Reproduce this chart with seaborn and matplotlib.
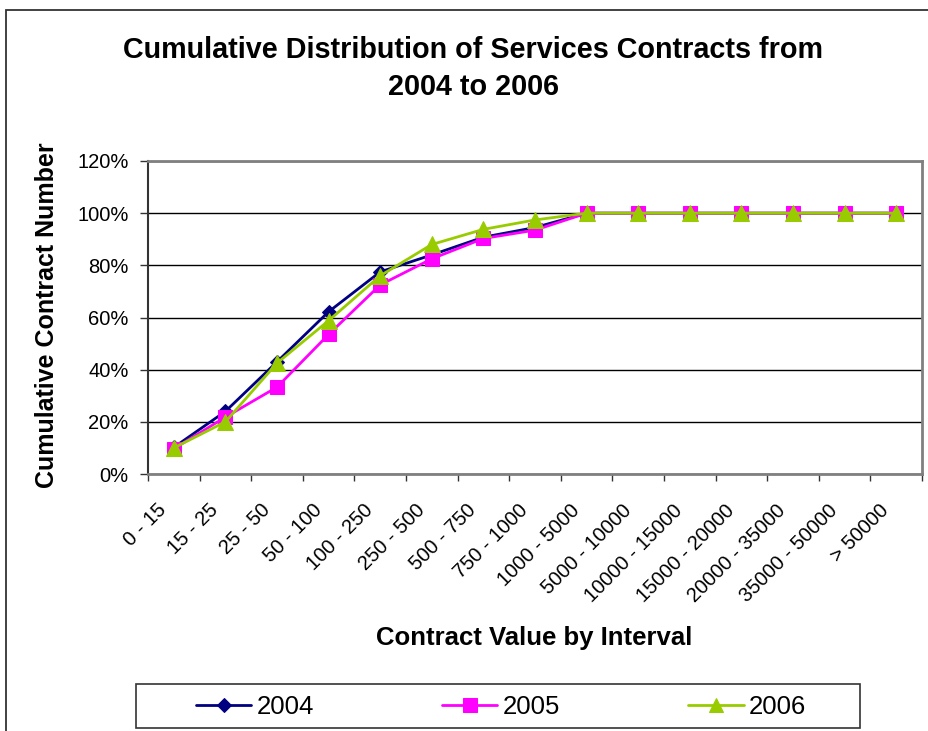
import pandas as pd
import matplotlib
matplotlib.use("Agg")
import matplotlib.pyplot as plt
from matplotlib.patches import Rectangle
from matplotlib.transforms import ScaledTranslation
from matplotlib.ticker import FixedLocator, PercentFormatter
import seaborn as sns

# chart data
intervals = ["0 - 15", "15 - 25", "25 - 50", "50 - 100", "100 - 250", "250 - 500",
             "500 - 750", "750 - 1000", "1000 - 5000", "5000 - 10000", "10000 - 15000",
             "15000 - 20000", "20000 - 35000", "35000 - 50000", "> 50000"]
cum_2004 = [10.2, 24.0, 43.0, 62.2, 77.5, 84.0, 90.8, 94.5, 100, 100, 100, 100, 100, 100, 100]
cum_2005 = [9.7, 21.8, 33.3, 53.5, 72.5, 82.5, 90.3, 93.5, 100, 100, 100, 100, 100, 100, 100]
cum_2006 = [10.0, 20.0, 42.5, 58.8, 76.0, 88.0, 93.8, 97.4, 100, 100, 100, 100, 100, 100, 100]
years = ["2004", "2005", "2006"]

df = pd.DataFrame({"pos": range(len(intervals)), "2004": cum_2004,
                   "2005": cum_2005, "2006": cum_2006})
df = df.melt(id_vars="pos", var_name="year", value_name="pct")

sns.set_style("white")
plt.rcParams["font.family"] = ["Liberation Sans", "DejaVu Sans"]
plt.rcParams["text.color"] = "black"
plt.rcParams["xtick.color"] = "black"
plt.rcParams["ytick.color"] = "black"
plt.rcParams["axes.labelcolor"] = "black"

fig = plt.figure(figsize=(9.29, 7.31), dpi=100)
ax = fig.add_axes([148 / 929, 1 - 474 / 731, (922 - 148) / 929, (474 - 161) / 731])

palette = {"2004": "#000080", "2005": "#FF00FF", "2006": "#99CC00"}
markers = {"2004": "D", "2005": "s", "2006": "^"}
sizes = {"2004": 7, "2005": 10.5, "2006": 11}
for y in years:
    sns.lineplot(data=df[df.year == y], x="pos", y="pct", color=palette[y],
                 marker=markers[y], markersize=sizes[y], markeredgecolor=palette[y],
                 linewidth=2, label=y, ax=ax, legend=False, zorder=3)

ax.set_xlabel("")
ax.set_ylabel("")
ax.set_xlim(-0.5, len(intervals) - 0.5)
ax.set_ylim(0, 120)
ax.yaxis.set_major_locator(FixedLocator(range(0, 121, 20)))
ax.yaxis.set_major_formatter(PercentFormatter(decimals=0))
ax.grid(axis="y", color="black", linewidth=1)
ax.grid(axis="x", visible=False)

# ticks at category boundaries, labels at category centres
ax.set_xticks([i - 0.5 for i in range(len(intervals) + 1)])
ax.set_xticklabels([])
ax.set_xticks(range(len(intervals)), minor=True)
ax.set_xticklabels(intervals, minor=True, rotation=45, ha="right", va="center",
                   rotation_mode="anchor", fontsize=14.5)
ax.tick_params(axis="x", which="minor", length=0, pad=24)
ax.tick_params(axis="x", which="major", direction="out", length=5, width=1, color="#333333")
ax.tick_params(axis="y", direction="out", length=6, width=1, labelsize=14.5,
               color="#333333", pad=8)
ax.xaxis.set_ticks_position("bottom")
ax.yaxis.set_ticks_position("left")
shift = ScaledTranslation(-0.1, 0, fig.dpi_scale_trans)
for lab in ax.get_xticklabels(minor=True):
    lab.set_transform(lab.get_transform() + shift)

for side in ["top", "bottom", "right"]:
    ax.spines[side].set_color("#808080")
    ax.spines[side].set_linewidth(2)
ax.spines["left"].set_color("#333333")
ax.spines["left"].set_linewidth(1.5)

fig.text(534 / 929, 1 - 638 / 731, "Contract Value by Interval", ha="center", va="center",
         fontsize=18.5, fontweight="bold")
fig.text(47 / 929, 1 - 315 / 731, "Cumulative Contract Number", ha="center", va="center",
         rotation=90, fontsize=18, fontweight="bold")
fig.text(473 / 929, 1 - 58 / 731, "Cumulative Distribution of Services Contracts from",
         ha="center", va="baseline", fontsize=20.7, fontweight="bold")
fig.text(473 / 929, 1 - 95 / 731, "2004 to 2006",
         ha="center", va="baseline", fontsize=20.7, fontweight="bold")

handles, labels = ax.get_legend_handles_labels()
leg = fig.legend(handles, labels, ncol=3, loc="center",
                 bbox_to_anchor=(501 / 929, 1 - 707 / 731), fontsize=18.5,
                 frameon=False, handlelength=2.15, handletextpad=0.2,
                 columnspacing=5.0, markerscale=0.95)
fig.add_artist(Rectangle((136 / 929, 1 - 728 / 731), 724 / 929, 44 / 731, fill=False,
                         transform=fig.transFigure, edgecolor="#333333", linewidth=1.2))

fig.add_artist(Rectangle((6 / 929, -0.05), 1.2, 1.05 - 10 / 731, fill=False,
                         transform=fig.transFigure, edgecolor="#333333", linewidth=1.3))

fig.savefig("out.png", dpi=100)
